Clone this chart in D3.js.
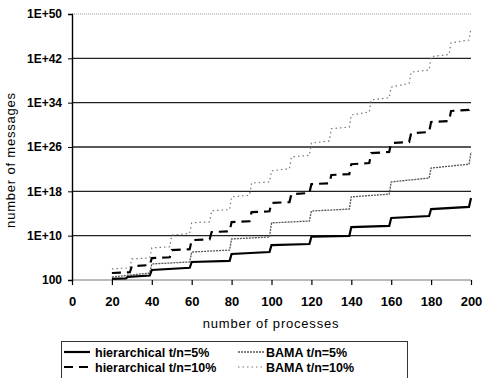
<!DOCTYPE html>
<html>
<head>
<meta charset="utf-8">
<script src="https://cdn.jsdelivr.net/npm/d3@7"></script>
<style>
  body { margin: 0; background: #fff; }
  svg { display: block; }
</style>
</head>
<body>
<div id="chart"></div>
<script>
// x = number of processes, values are exponents of 10 (number of messages)
const hier5X = [20, 27, 28, 39, 40, 59, 60, 79, 80, 99, 100, 119, 120, 139, 140, 159, 160, 179, 180, 199, 200];
const hier5Exp = [2.2, 2.3, 2.55, 2.8, 3.8, 4.2, 5.25, 5.45, 6.7, 7.05, 8.3, 8.5, 9.8, 9.95, 11.55, 11.75, 13.2, 13.55, 14.8, 15.2, 16.8];

const hier10X = [20, 29, 30, 39, 40, 49, 50, 59, 60, 69, 70, 79, 80, 89, 90, 99, 100, 109, 110, 119,
  120, 129, 130, 139, 140, 149, 150, 159, 160, 169, 170, 179, 180, 189, 190, 199, 200];
const hier10Exp = [3.26, 3.4, 4.5, 4.7, 5.95, 6.1, 7.4, 7.55, 9.2, 9.35, 10.65, 10.8, 12.45, 12.6, 14.25, 14.4, 15.9, 16.05, 17.5, 17.7,
  19.3, 19.45, 20.95, 21.1, 22.9, 23.1, 24.9, 25.1, 26.7, 26.9, 28.5, 28.7, 30.5, 30.7, 32.5, 32.7, 33.2];

const bama5X = [20, 39, 40, 59, 60, 79, 80, 99, 100, 119, 120, 139, 140, 159, 160, 179, 180, 199, 200];
const bama5Exp = [2.54, 3.26, 4.9, 5.25, 7.05, 7.4, 9.4, 9.76, 12.3, 12.65, 14.45, 14.8, 17.0, 17.5, 19.7, 20.4, 22.2, 22.9, 25.1];

const bama10X = [20, 29, 30, 39, 40, 49, 50, 59, 60, 69, 70, 79, 80, 89, 90, 99, 100, 109, 110, 119,
  120, 129, 130, 139, 140, 149, 150, 159, 160, 169, 170, 179, 180, 189, 190, 199, 200];
const bama10Exp = [4.0, 4.2, 5.8, 6.0, 7.8, 8.0, 10.1, 10.4, 12.3, 12.5, 14.5, 14.7, 17.0, 17.3, 19.5, 19.7, 21.7, 22.1, 24.2, 24.5,
  26.7, 27.1, 29.3, 29.6, 31.8, 32.3, 34.5, 34.9, 36.8, 37.5, 39.5, 39.9, 42.3, 42.7, 44.8, 45.3, 47.5];

const xTicks = [0, 20, 40, 60, 80, 100, 120, 140, 160, 180, 200];
const yTickExp = [2, 10, 18, 26, 34, 42, 50];

const seriesNames = ['hierarchical t/n=5%', 'BAMA t/n=5%', 'hierarchical t/n=10%', 'BAMA t/n=10%'];

const width = 484, height = 378;
const margin = { top: 14, right: 13, bottom: 98, left: 72 };

const svg = d3.select('#chart').append('svg')
  .attr('width', width)
  .attr('height', height);

svg.append('rect').attr('width', width).attr('height', height).attr('fill', '#fff');

const x = d3.scaleLinear()
  .domain([0, 200])
  .range([margin.left, width - margin.right]);

const y = d3.scaleLog()
  .domain([1e2, 1e50])
  .range([height - margin.bottom, margin.top]);

// gridlines
svg.append('g')
  .selectAll('line')
  .data(yTickExp)
  .enter().append('line')
  .attr('x1', x(0))
  .attr('x2', x(200))
  .attr('y1', d => y(Math.pow(10, d)))
  .attr('y2', d => y(Math.pow(10, d)))
  .attr('stroke', d => d === 50 ? '#999' : (d === 2 ? '#777' : '#222'))
  .attr('stroke-width', d => d === 50 || d === 2 ? 1 : 1.4)
  .attr('stroke-dasharray', d => d === 50 ? '1,1' : null);

// y axis
const yAxis = d3.axisLeft(y)
  .tickValues(yTickExp.map(e => Math.pow(10, e)))
  .tickSize(4)
  .tickFormat(d => {
    const e = Math.round(Math.log10(d));
    return e === 2 ? '100' : '1E+' + e;
  });

const gy = svg.append('g')
  .attr('transform', `translate(${margin.left},0)`)
  .call(yAxis);
gy.select('.domain').attr('stroke', '#000').attr('stroke-width', 1.4);
gy.selectAll('.tick line').attr('stroke', '#000');
gy.selectAll('text')
  .attr('x', -10)
  .style('font-family', '"Liberation Sans", Arial, sans-serif')
  .style('font-size', '12px')
  .style('font-weight', 'bold')
  .style('fill', '#000');

// x axis
const xAxis = d3.axisBottom(x)
  .tickValues(xTicks)
  .tickSize(5)
  .tickSizeOuter(0)
  .tickFormat(d3.format('d'));

const gx = svg.append('g')
  .attr('transform', `translate(0,${y(1e2)})`)
  .call(xAxis);
gx.select('.domain').remove();
gx.selectAll('.tick line').attr('stroke', '#000').attr('stroke-width', 1.2);
gx.selectAll('text')
  .attr('dy', '1.1em')
  .attr('y', 12)
  .style('font-family', '"Liberation Sans", Arial, sans-serif')
  .style('font-size', '13px')
  .style('font-weight', 'bold')
  .style('fill', '#000');

// axis titles
svg.append('text')
  .attr('x', 271)
  .attr('y', 328)
  .attr('text-anchor', 'middle')
  .style('font-family', '"Liberation Sans", Arial, sans-serif')
  .style('font-size', '13px')
  .style('letter-spacing', '0.8px')
  .text('number of processes');

svg.append('text')
  .attr('transform', 'translate(15,160) rotate(-90)')
  .attr('text-anchor', 'middle')
  .style('font-family', '"Liberation Sans", Arial, sans-serif')
  .style('font-size', '13px')
  .style('letter-spacing', '0.8px')
  .text('number of messages');

// series
const styles = [
  { stroke: '#000', width: 2.2, dash: null },
  { stroke: '#555', width: 1.3, dash: '2,1' },
  { stroke: '#000', width: 2.2, dash: '9,6' },
  { stroke: '#777', width: 1.2, dash: '1.5,3' }
];

const seriesData = [
  d3.zip(hier5X, hier5Exp),
  d3.zip(bama5X, bama5Exp),
  d3.zip(hier10X, hier10Exp),
  d3.zip(bama10X, bama10Exp)
];

const line = d3.line()
  .x(d => x(d[0]))
  .y(d => y(Math.pow(10, d[1])));

// draw BAMA 10% first, hierarchical on top
[3, 1, 2, 0].forEach(i => {
  svg.append('path')
    .datum(seriesData[i])
    .attr('d', line)
    .attr('fill', 'none')
    .attr('stroke', styles[i].stroke)
    .attr('stroke-width', styles[i].width)
    .attr('stroke-dasharray', styles[i].dash);
});

// legend
const legend = svg.append('g');
legend.append('rect')
  .attr('x', 61.5)
  .attr('y', 341.5)
  .attr('width', 346)
  .attr('height', 50)
  .attr('fill', 'none')
  .attr('stroke', '#333')
  .attr('stroke-width', 1);

const legendPos = [
  { lx: 64, tx: 95, cy: 352 },
  { lx: 238, tx: 266, cy: 352 },
  { lx: 64, tx: 95, cy: 367 },
  { lx: 238, tx: 266, cy: 367 }
];

seriesNames.forEach((name, i) => {
  const p = legendPos[i];
  legend.append('line')
    .attr('x1', p.lx)
    .attr('x2', p.lx + 26)
    .attr('y1', p.cy)
    .attr('y2', p.cy)
    .attr('stroke', styles[i].stroke)
    .attr('stroke-width', styles[i].width)
    .attr('stroke-dasharray', styles[i].dash);
  legend.append('text')
    .attr('x', p.tx)
    .attr('y', p.cy + 4.5)
    .style('font-family', '"Liberation Sans", Arial, sans-serif')
    .style('font-size', '12.5px')
    .style('font-weight', 'bold')
    .text(name);
});
</script>
</body>
</html>
